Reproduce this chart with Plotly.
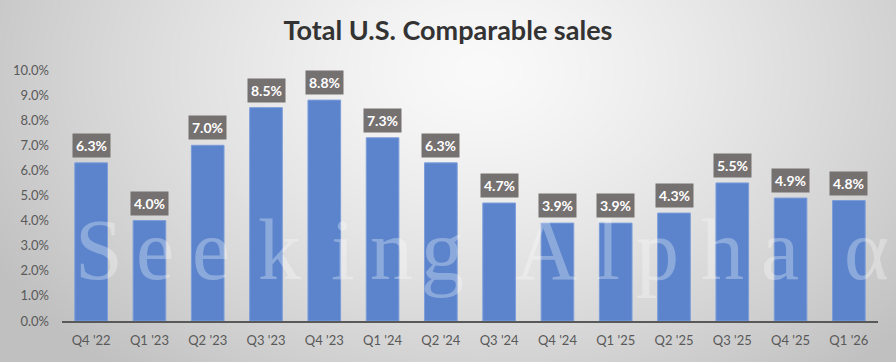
import base64, zlib, struct
import numpy as np
import plotly.graph_objects as go

categories = ["Q4 '22", "Q1 '23", "Q2 '23", "Q3 '23", "Q4 '23", "Q1 '24", "Q2 '24",
              "Q3 '24", "Q4 '24", "Q1 '25", "Q2 '25", "Q3 '25", "Q4 '25", "Q1 '26"]
comp_sales = [0.063, 0.040, 0.070, 0.085, 0.088, 0.073, 0.063,
              0.047, 0.039, 0.039, 0.043, 0.055, 0.049, 0.048]
y_ticks = [i / 100 for i in range(0, 11)]

W, H = 896, 362
L, R, T, B = 62, 18, 70, 41
PW, PH = W - L - R, H - T - B

# background radial gradient as a generated PNG
yy, xx = np.mgrid[0:H, 0:W].astype(float)
t = np.sqrt(((xx - 480) / 560) ** 2 + ((yy - 70) / 400) ** 2)
t = np.clip(t, 0, 1) ** 1.3
g = (250 - t * 58).astype(np.uint8)
raw = b"".join(b"\x00" + g[r].tobytes() for r in range(H))
def chunk(tag, data):
    c = tag + data
    return struct.pack(">I", len(data)) + c + struct.pack(">I", zlib.crc32(c) & 0xffffffff)
png = (b"\x89PNG\r\n\x1a\n" + chunk(b"IHDR", struct.pack(">IIBBBBB", W, H, 8, 0, 0, 0, 0))
       + chunk(b"IDAT", zlib.compress(raw, 9)) + chunk(b"IEND", b""))
bg_uri = "data:image/png;base64," + base64.b64encode(png).decode()

FONT = "Lato"

fig = go.Figure()
fig.add_trace(go.Bar(
    x=categories, y=comp_sales,
    marker=dict(color="#5B84CC", line=dict(color="#7C9DDA", width=1)),
    hoverinfo="skip",
))

annotations = []
for c, v in zip(categories, comp_sales):
    annotations.append(dict(
        x=c, y=v, xref="x", yref="y", yanchor="bottom", yshift=5,
        text=f"<b>{v*100:.1f}%</b>", showarrow=False,
        font=dict(family=FONT, size=14, color="white"),
        bgcolor="#767171", borderpad=3,
    ))

# watermark
wm_letters = ["S", "e", "e", "k", "i", "n", "g", "A", "l", "p", "h", "a", "α"]
wm_centers = [99, 155, 211, 279, 343, 391, 442, 546, 608, 657, 722, 780, 866]
for ch, cx in zip(wm_letters, wm_centers):
    annotations.append(dict(
        x=(cx - L) / PW, y=(H - 250 - B) / PH, xref="paper", yref="paper",
        xanchor="center", yanchor="middle", text=ch, showarrow=False,
        font=dict(family="Liberation Serif", size=86, color="rgba(255,255,255,0.3)"),
    ))

fig.update_layout(
    width=W, height=H,
    margin=dict(l=L, r=R, t=T, b=B, pad=0),
    paper_bgcolor="#e6e6e6", plot_bgcolor="rgba(0,0,0,0)",
    images=[dict(source=bg_uri, xref="paper", yref="paper",
                 x=-L / PW, y=1 + T / PH, sizex=W / PW, sizey=H / PH,
                 xanchor="left", yanchor="top", sizing="stretch", layer="below")],
    title=dict(text="<b>Total U.S. Comparable sales</b>", xref="container", yref="container",
               x=0.5, y=1 - 31 / H, xanchor="center", yanchor="middle",
               font=dict(family=FONT, size=27, color="#333333")),
    bargap=0.44,
    showlegend=False,
    annotations=annotations,
    xaxis=dict(showline=True, linecolor="#595959", linewidth=1.5, ticks="",
               tickfont=dict(family=FONT, size=13, color="#595959"),
               ticklabelstandoff=7, showgrid=False, fixedrange=True),
    yaxis=dict(range=[0, 0.1], tickvals=y_ticks, tickformat=".1%", showgrid=False,
               zeroline=False, showline=False, ticks="", ticklabelstandoff=12,
               tickfont=dict(family=FONT, size=13, color="#595959"), fixedrange=True),
)

fig.write_html("out.html", config={"displayModeBar": False},
               post_script="document.body.style.margin='0';")
